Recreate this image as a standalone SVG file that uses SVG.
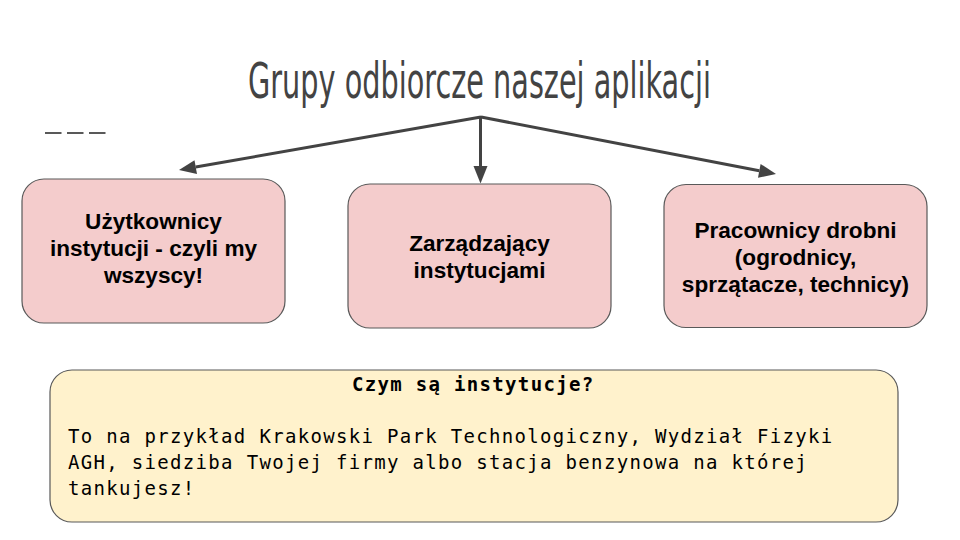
<svg xmlns="http://www.w3.org/2000/svg" width="960" height="540" viewBox="0 0 960 540">
  <style>
    .node rect { stroke: #595959; stroke-width: 1.2; }
    .pink { fill: #f4cccc; }
    .yellow { fill: #fff2cc; }
    .lbl { font-family: "Liberation Sans", Arial, sans-serif; font-weight: bold; font-size: 22.6px; fill: #000; text-anchor: middle; }
    .mono { font-family: "DejaVu Sans Mono", "Liberation Mono", monospace; font-size: 19px; letter-spacing: 1.32px; fill: #000; }
    .conn line { stroke: #434343; stroke-width: 3; }
    .conn polygon { fill: #434343; }
  </style>
  <rect width="960" height="540" fill="#ffffff"/>
  <g id="title">
    <text x="248" y="98" font-family="'Liberation Sans Narrow', 'DejaVu Sans Condensed', sans-serif" font-size="50" fill="#434343" textLength="463" lengthAdjust="spacingAndGlyphs">Grupy odbiorcze naszej aplikacji</text>
  </g>
  <g id="dashes">
    <line x1="45" y1="133" x2="105.5" y2="133" stroke="#595959" stroke-width="2" stroke-dasharray="16.5 5.5"/>
  </g>
  <g id="connectors" class="conn">
    <line x1="481" y1="117" x2="195.7" y2="167"/>
    <polygon points="179,170 194.5,160.2 197,174"/>
    <line x1="480.5" y1="116" x2="480.5" y2="167"/>
    <polygon points="480.5,183.5 473.5,166 487.5,166"/>
    <line x1="481" y1="117" x2="759.3" y2="170.8"/>
    <polygon points="776,174 758,177.7 760.6,163.9"/>
  </g>
  <g id="node-uzytkownicy" class="node">
    <rect class="pink" x="22" y="179" width="263" height="144" rx="22"/>
    <text class="lbl" x="153.5" y="229">Użytkownicy</text>
    <text class="lbl" x="153.5" y="256">instytucji - czyli my</text>
    <text class="lbl" x="153.5" y="283">wszyscy!</text>
  </g>
  <g id="node-zarzadzajacy" class="node">
    <rect class="pink" x="348" y="184" width="263" height="144" rx="22"/>
    <text class="lbl" x="479.5" y="251">Zarządzający</text>
    <text class="lbl" x="479.5" y="277.5">instytucjami</text>
  </g>
  <g id="node-pracownicy" class="node">
    <rect class="pink" x="664" y="184.5" width="263" height="143" rx="22"/>
    <text class="lbl" x="795.5" y="238">Pracownicy drobni</text>
    <text class="lbl" x="795.5" y="265">(ogrodnicy,</text>
    <text class="lbl" x="795.5" y="291.5">sprzątacze, technicy)</text>
  </g>
  <g id="node-instytucje" class="node">
    <rect class="yellow" x="50" y="370" width="848" height="152" rx="22"/>
    <text class="mono" x="352" y="391" font-weight="bold">Czym są instytucje?</text>
    <text class="mono" x="68" y="443">To na przykład Krakowski Park Technologiczny, Wydział Fizyki</text>
    <text class="mono" x="68" y="469">AGH, siedziba Twojej firmy albo stacja benzynowa na której</text>
    <text class="mono" x="68" y="494.5">tankujesz!</text>
  </g>
</svg>
